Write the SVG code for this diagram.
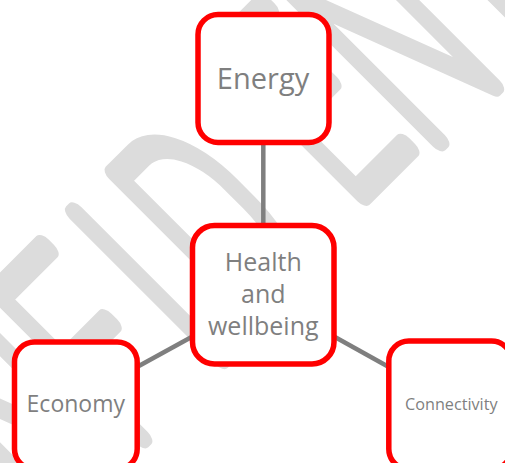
<svg xmlns="http://www.w3.org/2000/svg" width="505" height="463" viewBox="0 0 505 463">
<style>
.wm{font-family:Roboto,"Open Sans",sans-serif;font-weight:100;font-size:290px;fill:#dcdcdc;stroke:#dcdcdc;stroke-width:18;stroke-linejoin:round;stroke-linecap:round;vector-effect:non-scaling-stroke}
.box{fill:#ffffff;stroke:#ff0000;stroke-width:5.5}
.lbl{font-family:"Open Sans","Noto Sans",sans-serif;fill:#7f7f7f;text-anchor:middle}
.con{stroke:#7f7f7f;stroke-width:4.5;fill:none}
</style>
<rect x="0" y="0" width="505" height="463" fill="#ffffff"/>
<g id="watermark">
<text class="wm" transform="rotate(-45) scale(0.55,1)" y="410" x="-1005 -816 -616 -412.7 -214.5 -107 183.6 351 555 715 778 957" dy="0 0 0 0 0 0 -15 15">CONFIDENTIAL</text>
</g>
<g id="connectors">
<line class="con" x1="263.3" y1="142" x2="263.3" y2="225.5"/>
<line class="con" x1="192.5" y1="336.5" x2="137" y2="367"/>
<line class="con" x1="334" y1="336.5" x2="388.8" y2="367"/>
</g>
<g id="energy">
<rect class="box" x="198" y="14.5" width="131" height="128" rx="20"/>
<text class="lbl" x="263" y="89.3" font-size="29">Energy</text>
</g>
<g id="health">
<rect class="box" x="192.5" y="225.5" width="141.5" height="138.5" rx="22"/>
<text class="lbl" x="263.3" font-size="25"><tspan x="263.3" y="271">Health</tspan><tspan x="263.3" y="302.7">and</tspan><tspan x="263.3" y="335">wellbeing</tspan></text>
</g>
<g id="economy">
<rect class="box" x="14.5" y="342" width="122.7" height="127" rx="20"/>
<text class="lbl" x="75.8" y="411.7" font-size="23">Economy</text>
</g>
<g id="connectivity">
<rect class="box" x="388.8" y="341" width="122.7" height="128" rx="20"/>
<text class="lbl" x="451.3" y="410" font-size="16.2">Connectivity</text>
</g>
</svg>
